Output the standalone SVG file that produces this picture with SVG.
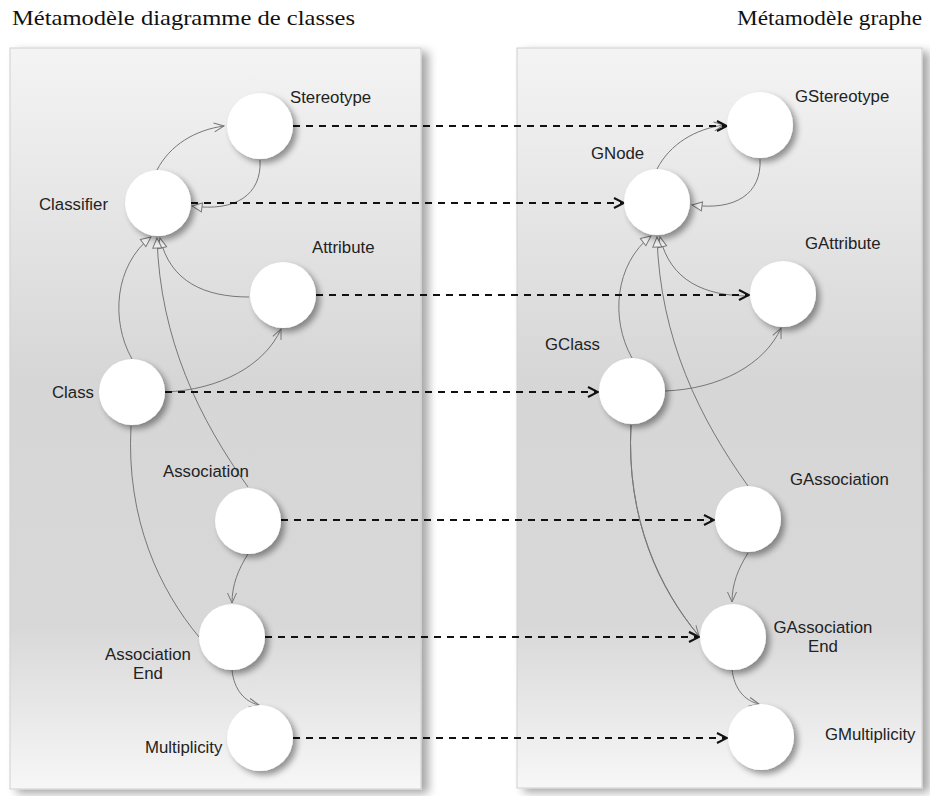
<svg xmlns="http://www.w3.org/2000/svg" width="930" height="796" viewBox="0 0 930 796">
  <style>
    .title { font-family: "Liberation Serif", "DejaVu Serif", serif; font-size: 21px; fill: #111; }
    .lbl { font-family: "Liberation Sans", Arial, sans-serif; font-size: 16.8px; fill: #222; }
    .panel { fill: url(#panelFill); stroke: #cfcfcf; stroke-width: 1; filter: url(#panelShadow); }
    .node { fill: #fff; filter: url(#nodeShadow); }
    .map { fill: none; stroke: #111; stroke-width: 2; stroke-dasharray: 7 6; marker-end: url(#openBlack); }
    .rel { fill: none; stroke: #777; stroke-width: 1; }
    .assoc { marker-end: url(#openGray); }
    .gen { marker-end: url(#hollowTri); }
  </style>
  <defs>
    <linearGradient id="panelFill" x1="0" y1="0" x2="0" y2="1">
      <stop offset="0" stop-color="#f4f4f4"/>
      <stop offset="0.3" stop-color="#e0e0e0"/>
      <stop offset="0.45" stop-color="#d6d6d6"/>
      <stop offset="0.78" stop-color="#d8d8d8"/>
      <stop offset="1" stop-color="#f7f7f7"/>
    </linearGradient>
    <filter id="panelShadow" x="-10%" y="-5%" width="125%" height="115%">
      <feGaussianBlur in="SourceAlpha" stdDeviation="5"/>
      <feOffset dx="7" dy="4" result="b"/>
      <feComponentTransfer><feFuncA type="linear" slope="0.35"/></feComponentTransfer>
      <feMerge><feMergeNode/><feMergeNode in="SourceGraphic"/></feMerge>
    </filter>
    <filter id="nodeShadow" x="-30%" y="-30%" width="170%" height="170%">
      <feGaussianBlur in="SourceAlpha" stdDeviation="3"/>
      <feOffset dx="4" dy="4" result="b"/>
      <feComponentTransfer><feFuncA type="linear" slope="0.4"/></feComponentTransfer>
      <feMerge><feMergeNode/><feMergeNode in="SourceGraphic"/></feMerge>
    </filter>
    <marker id="openBlack" viewBox="0 0 12 12" refX="11" refY="6" markerWidth="12" markerHeight="12" markerUnits="userSpaceOnUse" orient="auto">
      <path d="M1,1 L11,6 L1,11" fill="none" stroke="#111" stroke-width="2"/>
    </marker>
    <marker id="openGray" viewBox="0 0 12 12" refX="11" refY="6" markerWidth="12" markerHeight="12" markerUnits="userSpaceOnUse" orient="auto">
      <path d="M1,1.5 L11,6 L1,10.5" fill="none" stroke="#777" stroke-width="1"/>
    </marker>
    <marker id="hollowTri" viewBox="0 0 12 12" refX="11" refY="6" markerWidth="12" markerHeight="12" markerUnits="userSpaceOnUse" orient="auto">
      <path d="M1,1.5 L11,6 L1,10.5 Z" fill="#eee" stroke="#777" stroke-width="1"/>
    </marker>
    <!-- relations shared by both metamodels -->
    <g id="relations">
      <path class="rel assoc" d="M157,170 C170,145 195,130 224,126"/>
      <path class="rel gen" d="M260,160 C262,195 235,212 192,206"/>
      <path class="rel gen" d="M249,297 C205,297 170,282 160,238"/>
      <path class="rel gen" d="M132,359 C110,320 115,265 151,237"/>
      <path class="rel gen" d="M248,487 C200,420 160,340 157,238"/>
      <path class="rel assoc" d="M165,392 C220,390 265,365 281,329"/>
      <path class="rel" d="M131,426 C126,520 160,590 199,637"/>
      <path class="rel assoc" d="M248,554 C238,570 232,585 232,603"/>
      <path class="rel assoc" d="M232,670 C234,690 245,702 259,705"/>
    </g>
  </defs>

  <text class="title" x="12" y="25" textLength="343" lengthAdjust="spacingAndGlyphs">Métamodèle diagramme de classes</text>
  <text class="title" x="737" y="25" textLength="185" lengthAdjust="spacingAndGlyphs">Métamodèle graphe</text>

  <rect class="panel" x="10" y="48" width="411" height="741"/>
  <rect class="panel" x="517" y="48" width="405" height="740"/>

  <g id="connectors">
    <use href="#relations"/>
    <use href="#relations" transform="translate(500,-1)"/>
    <path class="rel assoc" d="M631,425 C626,520 660,590 699,636"/>
    <path class="map" d="M293,126 H727"/>
    <path class="map" d="M191,203 H624"/>
    <path class="map" d="M316,295 H749"/>
    <path class="map" d="M165,392 H598"/>
    <path class="map" d="M281,520 H714"/>
    <path class="map" d="M265,637 H699"/>
    <path class="map" d="M293,738 H727"/>
  </g>

  <g id="stereotype"><circle class="node" cx="260" cy="126" r="33"/><text class="lbl" x="290" y="103">Stereotype</text></g>
  <g id="classifier"><circle class="node" cx="158" cy="203" r="33"/><text class="lbl" x="39" y="210">Classifier</text></g>
  <g id="attribute"><circle class="node" cx="283" cy="295" r="33"/><text class="lbl" x="312" y="253">Attribute</text></g>
  <g id="class"><circle class="node" cx="132" cy="392" r="33"/><text class="lbl" x="52" y="398">Class</text></g>
  <g id="association"><circle class="node" cx="248" cy="521" r="33"/><text class="lbl" x="163" y="477">Association</text></g>
  <g id="association-end"><circle class="node" cx="232" cy="637" r="33"/><text class="lbl" x="148" y="660" text-anchor="middle">Association</text><text class="lbl" x="148" y="679" text-anchor="middle">End</text></g>
  <g id="multiplicity"><circle class="node" cx="260" cy="738" r="33"/><text class="lbl" x="145" y="753">Multiplicity</text></g>

  <g id="gstereotype"><circle class="node" cx="760" cy="125" r="33"/><text class="lbl" x="795" y="102">GStereotype</text></g>
  <g id="gnode"><circle class="node" cx="657" cy="202" r="33"/><text class="lbl" x="591" y="159">GNode</text></g>
  <g id="gattribute"><circle class="node" cx="783" cy="294" r="33"/><text class="lbl" x="805" y="249">GAttribute</text></g>
  <g id="gclass"><circle class="node" cx="632" cy="391" r="33"/><text class="lbl" x="545" y="350">GClass</text></g>
  <g id="gassociation"><circle class="node" cx="748" cy="519" r="33"/><text class="lbl" x="790" y="485">GAssociation</text></g>
  <g id="gassociation-end"><circle class="node" cx="733" cy="637" r="33"/><text class="lbl" x="823" y="633" text-anchor="middle">GAssociation</text><text class="lbl" x="823" y="652" text-anchor="middle">End</text></g>
  <g id="gmultiplicity"><circle class="node" cx="761" cy="737" r="33"/><text class="lbl" x="825" y="740">GMultiplicity</text></g>
</svg>
